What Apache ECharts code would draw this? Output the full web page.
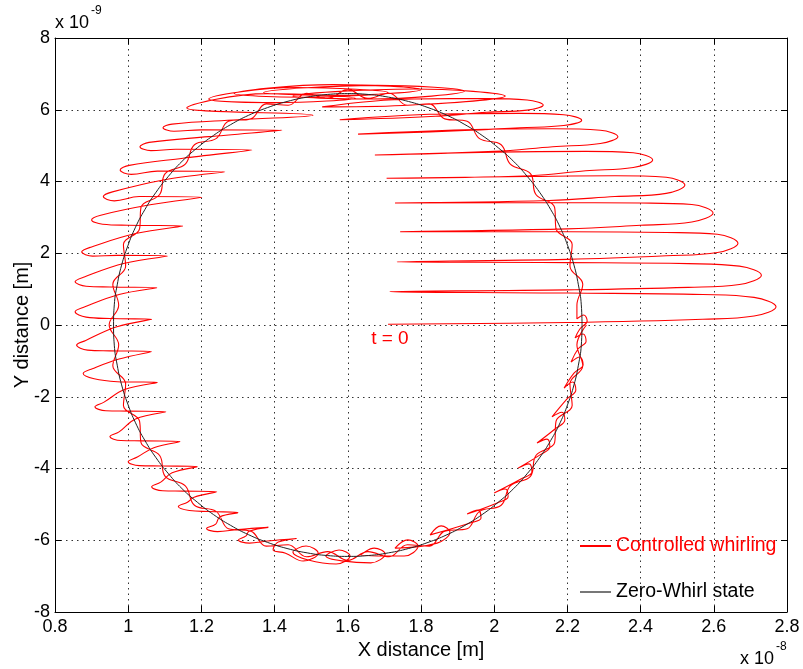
<!DOCTYPE html>
<html><head><meta charset="utf-8">
<script src="https://cdn.jsdelivr.net/npm/echarts@6/dist/echarts.min.js"></script>
<style>html,body{margin:0;padding:0;background:#fff}#c{width:803px;height:669px}</style>
</head><body><div id="c"></div>
<script>
// axis ticks (x in 1e-8 m, y in 1e-9 m)
const xTicks = [0.8, 1, 1.2, 1.4, 1.6, 1.8, 2, 2.2, 2.4, 2.6, 2.8];
const yTicks = [-8, -6, -4, -2, 0, 2, 4, 6, 8];
const seriesNames = ['Controlled whirling', 'Zero-Whirl state'];

// Zero-whirl orbit
const zeroWhirl = [[2.240,0],[2.238,0.562],[2.230,1.120],[2.218,1.669],[2.201,2.206],[2.180,2.726],[2.154,3.225],[2.124,3.700],[2.090,4.146],[2.053,4.561],
[2.011,4.941],[1.967,5.284],[1.920,5.586],[1.871,5.846],[1.819,6.061],[1.766,6.230],[1.711,6.352],[1.656,6.426],[1.600,6.450],
[1.544,6.426],[1.489,6.352],[1.434,6.230],[1.381,6.061],[1.329,5.846],[1.280,5.586],[1.233,5.284],[1.189,4.941],[1.147,4.561],
[1.110,4.146],[1.076,3.700],[1.046,3.225],[1.020,2.726],[0.999,2.206],[0.982,1.669],[0.970,1.120],[0.962,0.562],[0.960,0],
[0.962,-0.562],[0.970,-1.120],[0.982,-1.669],[0.999,-2.206],[1.020,-2.726],[1.046,-3.225],[1.076,-3.700],[1.110,-4.146],[1.147,-4.561],
[1.189,-4.941],[1.233,-5.284],[1.280,-5.586],[1.329,-5.846],[1.381,-6.061],[1.434,-6.230],[1.489,-6.352],[1.544,-6.426],[1.600,-6.450],
[1.656,-6.426],[1.711,-6.352],[1.766,-6.230],[1.819,-6.061],[1.871,-5.846],[1.920,-5.586],[1.967,-5.284],[2.011,-4.941],[2.053,-4.561],
[2.090,-4.146],[2.124,-3.700],[2.154,-3.225],[2.180,-2.726],[2.201,-2.206],[2.218,-1.669],[2.230,-1.120],[2.238,-0.562],[2.240,0]];

// Controlled whirling trajectory, read piece by piece
const redRight = [[1.71,0.02],[2.2,0.07],[2.57,0.16],[2.71,0.25],[2.77,0.51],[2.71,0.77],[2.57,0.85],[2.2,0.89],
[1.715,0.93],[2.2,0.98],[2.53,1.05],[2.67,1.13],[2.73,1.39],[2.67,1.64],[2.53,1.71],[2.2,1.74],
[1.734,1.76],[2.2,1.83],[2.47,1.93],[2.61,2.02],[2.666,2.28],[2.61,2.53],[2.47,2.58],[2.2,2.60],
[1.743,2.60],[2.2,2.68],[2.40,2.78],[2.54,2.87],[2.598,3.12],[2.54,3.36],[2.40,3.40],[2.15,3.41],
[1.729,3.40],[2.15,3.47],[2.33,3.58],[2.47,3.67],[2.521,3.90],[2.47,4.12],[2.33,4.16],[2.1,4.14],
[1.706,4.09],[2.1,4.16],[2.25,4.30],[2.38,4.39],[2.433,4.60],[2.38,4.80],[2.25,4.84],[2.0,4.82],
[1.674,4.74],[2.0,4.84],[2.16,4.97],[2.29,5.06],[2.338,5.25],[2.29,5.43],[2.16,5.47],[1.92,5.44],
[1.628,5.32],[1.92,5.42],[2.07,5.50],[2.19,5.56],[2.239,5.71],[2.19,5.86],[2.07,5.90],[1.85,5.88],
[1.578,5.72],[1.84,5.82],[1.98,5.93],[2.09,5.99],[2.134,6.13],[2.09,6.27],[1.98,6.31],[1.78,6.30],
[1.53,6.08]];
const redTop = [[1.75,6.12],[2.03,6.38],[1.78,6.58],[1.45,6.38],
[1.66,6.30],[1.92,6.52],[1.68,6.68],[1.37,6.48],
[1.57,6.40],[1.80,6.56],[1.56,6.70],[1.29,6.45],
[1.48,6.35],[1.71,6.48],[1.46,6.62],[1.22,6.30],
[1.40,6.20],[1.62,6.32],[1.38,6.45],[1.16,6.05]];
const redLeft = [[1.505,5.85],[1.30,5.72],[1.12,5.60],[1.095,5.50],[1.125,5.40],[1.20,5.44],
[1.42,5.43],[1.22,5.25],[1.057,5.09],[1.032,4.97],[1.062,4.86],[1.13,4.90],
[1.338,4.88],[1.15,4.65],[1.003,4.45],[0.978,4.32],[1.008,4.20],[1.08,4.29],
[1.264,4.27],[1.10,4.05],[0.957,3.71],[0.932,3.58],[0.962,3.46],[1.03,3.58],
[1.201,3.56],[1.06,3.35],[0.925,3.06],[0.900,2.93],[0.930,2.81],[1.0,2.78],
[1.149,2.76],[1.02,2.55],[0.898,2.17],[0.873,2.04],[0.903,1.92],[0.97,1.94],
[1.107,1.92],[0.99,1.72],[0.88,1.34],[0.855,1.21],[0.885,1.08],[0.95,1.06],
[1.078,1.04],[0.975,0.85],[0.88,0.50],[0.855,0.37],[0.885,0.22],[0.95,0.18],
[1.064,0.16],[0.969,-0.05],[0.884,-0.43],[0.859,-0.56],[0.889,-0.70],[0.95,-0.72],
[1.064,-0.74],[0.975,-0.95],[0.902,-1.22],[0.877,-1.35],[0.907,-1.50],[0.97,-1.58],
[1.080,-1.60],[0.99,-1.80],[0.934,-2.15],[0.909,-2.28],[0.939,-2.39],[1.0,-2.40],
[1.103,-2.42],[1.02,-2.62],[0.975,-2.98],[0.950,-3.11],[0.980,-3.22],[1.04,-3.23],
[1.142,-3.25],[1.07,-3.42],[1.025,-3.68],[1.000,-3.81],[1.030,-3.92],[1.09,-3.93],
[1.189,-3.95],[1.12,-4.12],[1.089,-4.38],[1.064,-4.51],[1.094,-4.62],[1.15,-4.63],
[1.242,-4.65],[1.18,-4.80],[1.162,-4.94],[1.137,-5.06],[1.167,-5.17],[1.22,-5.20],
[1.300,-5.23],[1.25,-5.35],[1.239,-5.55],[1.214,-5.67],[1.244,-5.76],[1.30,-5.70],
[1.383,-5.64],[1.33,-5.75],[1.322,-5.88],[1.301,-5.99],[1.331,-6.08],[1.38,-6.02],
[1.460,-5.95],[1.41,-6.05],[1.40,-6.15],[1.396,-6.27],[1.43,-6.36]];
const redBottom = [[1.478,-6.58],[1.519,-6.36],[1.486,-6.16],[1.450,-6.33],
[1.568,-6.66],[1.606,-6.44],[1.576,-6.27],[1.540,-6.44],
[1.663,-6.63],[1.702,-6.38],[1.672,-6.22],[1.636,-6.41],
[1.754,-6.44],[1.792,-6.16],[1.764,-5.99],[1.729,-6.22],
[1.844,-6.08],[1.879,-5.77],[1.855,-5.60],[1.825,-5.85],
[1.934,-5.52],[1.964,-5.38],[1.956,-5.16],[1.926,-5.27],
[2.008,-4.96],[2.038,-4.79],[2.030,-4.57],[2.000,-4.68],
[2.073,-4.29],[2.103,-4.10],[2.095,-3.87],[2.065,-3.99],
[2.125,-3.62],[2.152,-3.40],[2.144,-3.18],[2.117,-3.29],
[2.166,-2.90],[2.193,-2.65],[2.185,-2.43],[2.158,-2.56],
[2.199,-2.06],[2.223,-1.81],[2.215,-1.59],[2.191,-1.76],
[2.218,-1.34],[2.243,-1.11],[2.234,-0.89],[2.210,-1.03],
[2.229,-0.67],[2.251,-0.45],[2.243,-0.25],[2.221,-0.36],
[2.234,-0.11],[2.254,0.11],[2.245,0.28],[2.226,0.17]];
// second lap: small residual wiggles riding on the orbit
const redSettled = [[2.226,0.553],[2.242,1.139],[2.207,1.641],[2.213,2.244],[2.169,2.679],[2.165,3.28],[2.114,3.637],[2.099,4.217],[2.044,4.483],[2.019,5.025],
[1.960,5.194],[1.926,5.681],[1.865,5.746],[1.823,6.164],[1.763,6.124],[1.713,6.460],[1.655,6.316],[1.600,6.56],
[1.545,6.316],[1.487,6.460],[1.437,6.124],[1.377,6.164],[1.335,5.746],[1.274,5.681],[1.240,5.194],[1.181,5.025],[1.156,4.483],[1.101,4.217],
[1.086,3.637],[1.035,3.28],[1.031,2.679],[0.987,2.244],[0.993,1.641],[0.958,1.139],[0.974,0.553],[0.948,0],
[0.974,-0.553],[0.958,-1.139],[0.993,-1.641],[0.987,-2.244],[1.031,-2.679],[1.035,-3.28],[1.086,-3.637],[1.101,-4.217],[1.156,-4.483],
[1.181,-5.025],[1.240,-5.194],[1.274,-5.681],[1.335,-5.746],[1.377,-6.164],[1.437,-6.124],[1.487,-6.460],[1.545,-6.316],[1.600,-6.56],
[1.655,-6.316],[1.713,-6.460],[1.763,-6.124],[1.823,-6.164],[1.865,-5.746],[1.926,-5.681],[1.960,-5.194],[2.019,-5.025],[2.044,-4.483],
[2.099,-4.217],[2.114,-3.637],[2.165,-3.28],[2.169,-2.679],[2.213,-2.244],[2.207,-1.641],[2.242,-1.139],[2.226,-0.553],[2.252,0.0]];
const startLabel = {text: 't = 0', x: 1.715, y: -0.39};

const redPath = [].concat(redRight, redTop, redLeft, redBottom, redSettled);
const FONT = 'Liberation Sans, Arial, Helvetica, sans-serif';
const chart = echarts.init(document.getElementById('c'), null, {renderer: 'canvas'});
const axisCommon = {
  axisLine: {show: true, onZero: false, lineStyle: {color: '#000', width: 1}},
  axisTick: {show: true, inside: true, length: 6, lineStyle: {color: '#000'}},
  splitLine: {show: false},
  axisLabel: {show: false}
};
chart.setOption({
  animation: false,
  backgroundColor: '#fff',
  grid: {left: 55, right: 16, top: 38, bottom: 57, containLabel: false},
  legend: {
    orient: 'vertical', left: 580, top: 536, padding: 0, itemGap: 26, itemWidth: 31, itemHeight: 2,
    icon: 'rect',
    textStyle: {fontFamily: FONT, fontSize: 19.5, color: '#000'},
    data: [{name: seriesNames[0], textStyle: {color: '#ff0000'}}, {name: seriesNames[1]}]
  },
  xAxis: [{
    type: 'value', min: xTicks[0], max: xTicks[xTicks.length - 1], interval: 0.2,
    name: 'X distance [m]', nameLocation: 'middle', nameGap: 28,
    nameTextStyle: {fontFamily: FONT, fontSize: 20, color: '#000'},
    axisLine: {show: true, onZero: false, lineStyle: {color: '#000'}},
    axisTick: {show: true, inside: true, length: 6, lineStyle: {color: '#000'}},
    axisLabel: {fontFamily: FONT, fontSize: 18, color: '#000', margin: 6,
      formatter: v => String(xTicks.find(t => Math.abs(t - v) < 1e-6) ?? '')},
    splitLine: {show: true, lineStyle: {color: '#333', type: [1.5, 4], width: 1}}
  }, Object.assign({type: 'value', position: 'top', min: xTicks[0], max: xTicks[xTicks.length - 1], interval: 0.2}, axisCommon)],
  yAxis: [{
    type: 'value', min: yTicks[0], max: yTicks[yTicks.length - 1], interval: 2,
    name: 'Y distance [m]', nameLocation: 'middle', nameGap: 23, nameMoveOverlap: false,
    nameTextStyle: {fontFamily: FONT, fontSize: 20, color: '#000'},
    axisLine: {show: true, onZero: false, lineStyle: {color: '#000'}},
    axisTick: {show: true, inside: true, length: 6, lineStyle: {color: '#000'}},
    axisLabel: {fontFamily: FONT, fontSize: 18, color: '#000', margin: 5},
    splitLine: {show: true, lineStyle: {color: '#333', type: [1.5, 4], width: 1}}
  }, Object.assign({type: 'value', position: 'right', min: yTicks[0], max: yTicks[yTicks.length - 1], interval: 2}, axisCommon)],
  series: [{
    name: seriesNames[0], type: 'line', data: redPath, showSymbol: false, symbol: 'none',
    smooth: 0.4, lineStyle: {color: '#ff0000', width: 1.1}, itemStyle: {color: '#ff0000'}, z: 2
  }, {
    name: seriesNames[1], type: 'line', data: zeroWhirl, showSymbol: false, symbol: 'none',
    smooth: 0.5, lineStyle: {color: '#222', width: 1}, itemStyle: {color: '#777'}, z: 3
  }]
});
const p = chart.convertToPixel({xAxisIndex: 0, yAxisIndex: 0}, [startLabel.x, startLabel.y]);
chart.setOption({
  graphic: [
    {type: 'text', left: 55, top: 14, style: {text: 'x 10', font: '18px ' + FONT, fill: '#000'}},
    {type: 'text', left: 91, top: 5, style: {text: '-9', font: '12px ' + FONT, fill: '#000'}},
    {type: 'text', left: 740, top: 650, style: {text: 'x 10', font: '18px ' + FONT, fill: '#000'}},
    {type: 'text', left: 776, top: 641, style: {text: '-8', font: '12px ' + FONT, fill: '#000'}},
    {type: 'text', x: p[0], y: p[1], style: {text: startLabel.text, font: '19px ' + FONT, fill: '#ff0000', align: 'center', verticalAlign: 'middle'}}
  ]
});
</script></body></html>
